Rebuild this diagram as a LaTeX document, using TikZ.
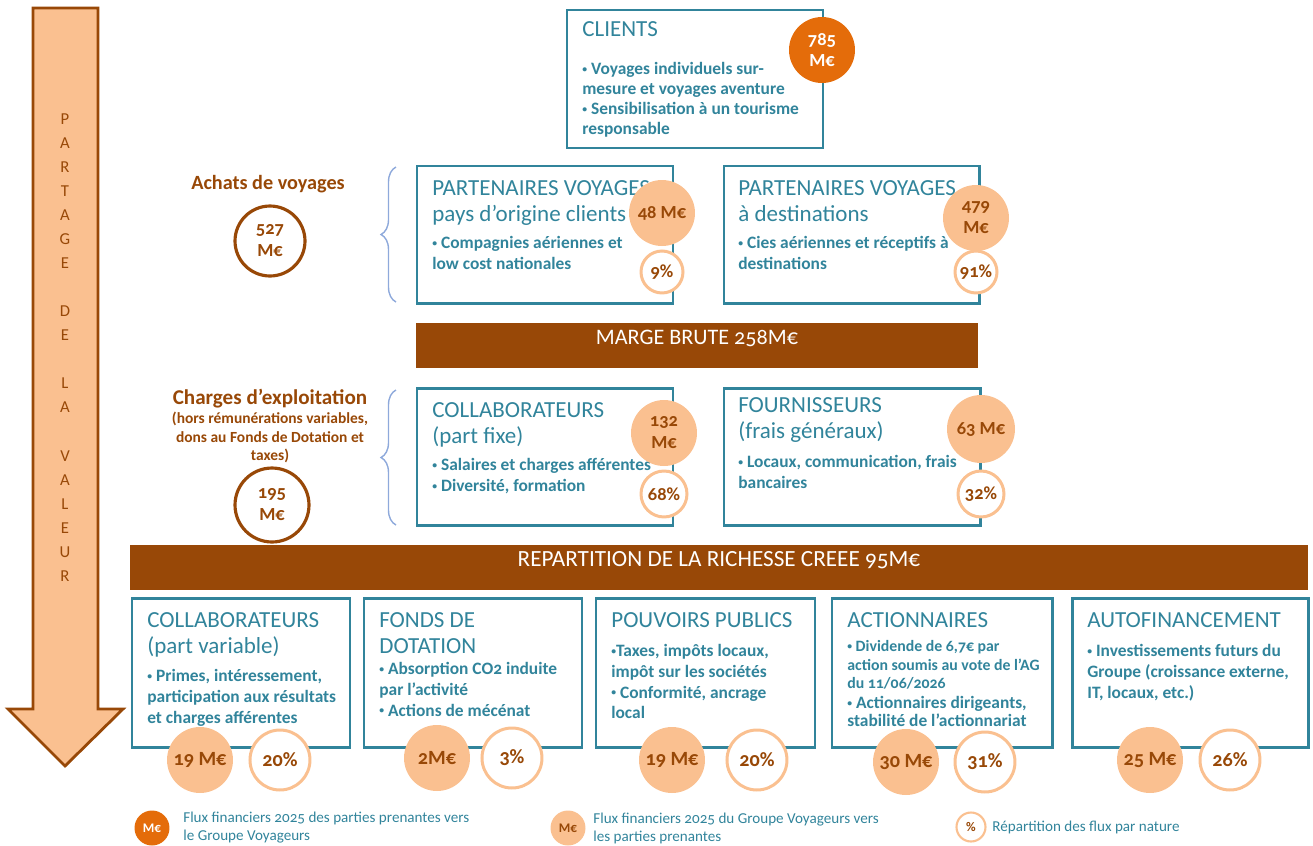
\documentclass[tikz,border=0pt]{standalone}
\usepackage{fontspec}
\setmainfont{Carlito}[Numbers=OldStyle]
\usetikzlibrary{shapes.geometric, arrows, fit, decorations.pathreplacing}
\definecolor{bleucanard}{HTML}{31849B}
\definecolor{orangefonce}{HTML}{E46C0A}
\definecolor{orangeclair}{HTML}{FAC090}
\definecolor{brun}{HTML}{984807}
\definecolor{accolade}{HTML}{8EA9DB}
\newcommand{\pce}{\raisebox{0.25ex}{\fontsize{5.5}{5.5}\selectfont •}}
\tikzstyle{fleche} = [draw=brun, fill=orangeclair, line width=1.6pt, line join=miter]
\tikzstyle{bloc} = [rectangle, draw=bleucanard, line width=1.7pt, inner sep=0pt]
\tikzstyle{titre} = [anchor=north west, inner sep=0pt, align=left, text=bleucanard, font=\fontsize{13.1}{14.7}\selectfont]
\tikzstyle{puces} = [anchor=north west, inner sep=0pt, align=left, text=bleucanard, font=\bfseries\fontsize{9.9}{11.8}\selectfont]
\tikzstyle{bandeau} = [rectangle, fill=brun, text=white, inner sep=0pt, font=\fontsize{12.6}{14}\selectfont]
\tikzstyle{fluxin} = [circle, fill=orangefonce, text=white, minimum size=1.32cm, inner sep=0pt, align=center, font=\bfseries\fontsize{10.5}{12}\selectfont]
\tikzstyle{fluxout} = [circle, fill=orangeclair, text=brun, minimum size=1.32cm, inner sep=0pt, align=center, font=\bfseries\fontsize{10.5}{12.5}\selectfont]
\tikzstyle{part} = [circle, draw=orangeclair, line width=1.7pt, fill=white, text=brun, minimum size=0.84cm, inner sep=0pt, font=\bfseries\fontsize{10.5}{12}\selectfont]
\tikzstyle{total} = [circle, draw=brun, line width=1.8pt, fill=white, text=brun, minimum size=1.4cm, inner sep=0pt, align=center, font=\bfseries\fontsize{10.5}{12.5}\selectfont]
\tikzstyle{rubrique} = [text=brun, align=center, inner sep=0pt]
\tikzstyle{acc} = [draw=accolade, line width=0.8pt, decorate, decoration={brace, amplitude=0.3cm}]
\tikzstyle{legende} = [anchor=west, inner sep=0pt, align=left, text=bleucanard, font=\fontsize{8.6}{10.2}\selectfont]

\begin{document}
\begin{tikzpicture}[x=0.02cm, y=-0.02cm, node distance=1.6cm]
\useasboundingbox (0,0) rectangle (1313,846);

\draw [fleche] (33,8) -- (98,8) -- (98,709) -- (123,709) -- (65,766) -- (8,709) -- (33,709) -- cycle;
\node (partage) [anchor=north, inner sep=0pt, align=center, text=brun, font=\fontsize{9.5}{13.7}\selectfont] at (65,113)
  {P\\A\\R\\T\\A\\G\\E\\[13.7pt]D\\E\\[13.7pt]L\\A\\[13.7pt]V\\A\\L\\E\\U\\R};

\node (cli) [bloc, fit={(567,10) (823,148)}] {};
\node (cli-t) [titre] at (582,21) {CLIENTS};
\node (cli-p) [puces, font=\bfseries\fontsize{9.9}{11.3}\selectfont] at (582,62) {\pce\ Voyages individuels sur-\\mesure et voyages aventure\\\pce\ Sensibilisation à un tourisme\\responsable};
\node (f785) [fluxin] at (822,50) {785\\M€};

\node (achats) [rubrique, font=\bfseries\fontsize{11.5}{13}\selectfont] at (268,184) {Achats de voyages};
\node (t527) [total] at (270,241) {527\\M€};
\coordinate (acc1b) at (396,302);
\coordinate (acc1h) at (396,167);
\draw [acc] (acc1b) -- (acc1h);

\node (pvo) [bloc, fit={(417,166) (673,303)}] {};
\node (pvo-t) [titre] at (432,180) {PARTENAIRES VOYAGES\\pays d’origine clients};
\node (pvo-p) [puces] at (432,236) {\pce\ Compagnies aériennes et\\low cost nationales};
\node (f48) [fluxout] at (662,213) {48 M€};
\node (p9) [part, below of=f48, node distance=1.18cm] {9\%};

\node (pvd) [bloc, fit={(724,166) (979,303)}] {};
\node (pvd-t) [titre] at (738,180) {PARTENAIRES VOYAGES\\à destinations};
\node (pvd-p) [puces] at (738,236) {\pce\ Cies aériennes et réceptifs à\\destinations};
\node (f479) [fluxout] at (976,218) {479\\M€};
\node (p91) [part, below of=f479, node distance=1.08cm] {91\%};

\node (marge) [bandeau, fit={(416,323) (978,368)}] {MARGE BRUTE 258M€};

\node (charges) [rubrique, font=\bfseries\fontsize{12}{13}\selectfont] at (270,399) {Charges d’exploitation};
\node (charges-n) [rubrique, below of=charges, node distance=0.77cm, font=\bfseries\fontsize{8.8}{10.4}\selectfont] {(hors rémunérations variables,\\dons au Fonds de Dotation et\\taxes)};
\node (t195) [total, minimum size=1.48cm] at (272,505) {195\\M€};
\coordinate (acc2b) at (396,525);
\coordinate (acc2h) at (396,390);
\draw [acc] (acc2b) -- (acc2h);

\node (collf) [bloc, fit={(417,388) (673,525)}] {};
\node (collf-t) [titre] at (432,402) {COLLABORATEURS\\(part fixe)};
\node (collf-p) [puces] at (432,458) {\pce\ Salaires et charges afférentes\\\pce\ Diversité, formation};
\node (f132) [fluxout] at (664,433) {132\\M€};
\node (p68) [part, minimum size=0.92cm, below of=f132, node distance=1.22cm] {68\%};

\node (fourn) [bloc, fit={(724,388) (980,525)}] {};
\node (fourn-t) [titre] at (738,397) {FOURNISSEURS\\(frais généraux)};
\node (fourn-p) [puces] at (738,455) {\pce\ Locaux, communication, frais\\bancaires};
\node (f63) [fluxout, minimum size=1.36cm] at (981,429) {63 M€};
\node (p32) [part, minimum size=0.92cm, below of=f63, node distance=1.3cm] {32\%};

\node (repart) [bandeau, fit={(130,545) (1308,590)}, font=\fontsize{13.2}{14}\selectfont] {REPARTITION DE LA RICHESSE CREEE 95M€};

\node (collv) [bloc, fit={(132,598) (350,747)}] {};
\node (collv-t) [titre] at (147,612) {COLLABORATEURS\\(part variable)};
\node (collv-p) [puces] at (147,669) {\pce\ Primes, intéressement,\\participation aux résultats\\et charges afférentes};
\node (f19a) [fluxout, font=\bfseries\fontsize{11.5}{13}\selectfont] at (200,760) {19 M€};
\node (p20a) [part, minimum size=1.2cm, font=\bfseries\fontsize{11.5}{13}\selectfont, right of=f19a] {20\%};

\node (fonds) [bloc, fit={(364,598) (582,747)}] {};
\node (fonds-t) [titre] at (379,612) {FONDS DE\\DOTATION};
\node (fonds-p) [puces] at (379,662) {\pce\ Absorption CO2 induite\\par l’activité\\\pce\ Actions de mécénat};
\node (f2) [fluxout, font=\bfseries\fontsize{11.5}{13}\selectfont] at (437,758) {2M€};
\node (p3) [part, minimum size=1.2cm, font=\bfseries\fontsize{11.5}{13}\selectfont, right of=f2, node distance=1.5cm] {3\%};

\node (pouv) [bloc, fit={(596,598) (815,747)}] {};
\node (pouv-t) [titre] at (611,612) {POUVOIRS PUBLICS};
\node (pouv-p) [puces] at (611,644) {\pce Taxes, impôts locaux,\\impôt sur les sociétés\\\pce\ Conformité, ancrage\\local};
\node (f19b) [fluxout, font=\bfseries\fontsize{11.5}{13}\selectfont] at (672,760) {19 M€};
\node (p20b) [part, minimum size=1.2cm, font=\bfseries\fontsize{11.5}{13}\selectfont, right of=f19b, node distance=1.7cm] {20\%};

\node (action) [bloc, fit={(832,598) (1052,747)}] {};
\node (action-t) [titre] at (847,612) {ACTIONNAIRES};
\node (action-p) [puces, font=\bfseries\fontsize{9}{10.6}\selectfont] at (847,640) {\pce\ Dividende de 6,7€ par\\action soumis au vote de l’AG\\du 11/06/2026};
\node (action-q) [puces, font=\bfseries\fontsize{9.9}{10.4}\selectfont] at (847,696) {\pce\ Actionnaires dirigeants,\\stabilité de l’actionnariat};
\node (f30) [fluxout, font=\bfseries\fontsize{11.5}{13}\selectfont] at (906,762) {30 M€};
\node (p31) [part, minimum size=1.2cm, font=\bfseries\fontsize{11.5}{13}\selectfont, right of=f30, node distance=1.58cm] {31\%};

\node (autof) [bloc, fit={(1072,598) (1308,747)}] {};
\node (autof-t) [titre] at (1087,612) {AUTOFINANCEMENT};
\node (autof-p) [puces] at (1087,644) {\pce\ Investissements futurs du\\Groupe (croissance externe,\\IT, locaux, etc.)};
\node (f25) [fluxout, font=\bfseries\fontsize{11.5}{13}\selectfont] at (1150,760) {25 M€};
\node (p26) [part, minimum size=1.2cm, font=\bfseries\fontsize{11.5}{13}\selectfont, right of=f25] {26\%};

\node (lg1) [fluxin, minimum size=0.7cm, font=\bfseries\fontsize{7.5}{8}\selectfont] at (152,828) {M€};
\node (lg1-t) [legende] at (183,828) {Flux financiers 2025 des parties prenantes vers\\le Groupe Voyageurs};
\node (lg2) [fluxout, minimum size=0.7cm, font=\bfseries\fontsize{7.5}{8}\selectfont] at (568,828) {M€};
\node (lg2-t) [legende] at (593,828) {Flux financiers 2025 du Groupe Voyageurs vers\\les parties prenantes};
\node (lg3) [part, minimum size=0.58cm, line width=1.2pt, font=\bfseries\fontsize{7.5}{8}\selectfont] at (971,827) {\%};
\node (lg3-t) [legende] at (992,827) {Répartition des flux par nature};
\end{tikzpicture}
\end{document}
